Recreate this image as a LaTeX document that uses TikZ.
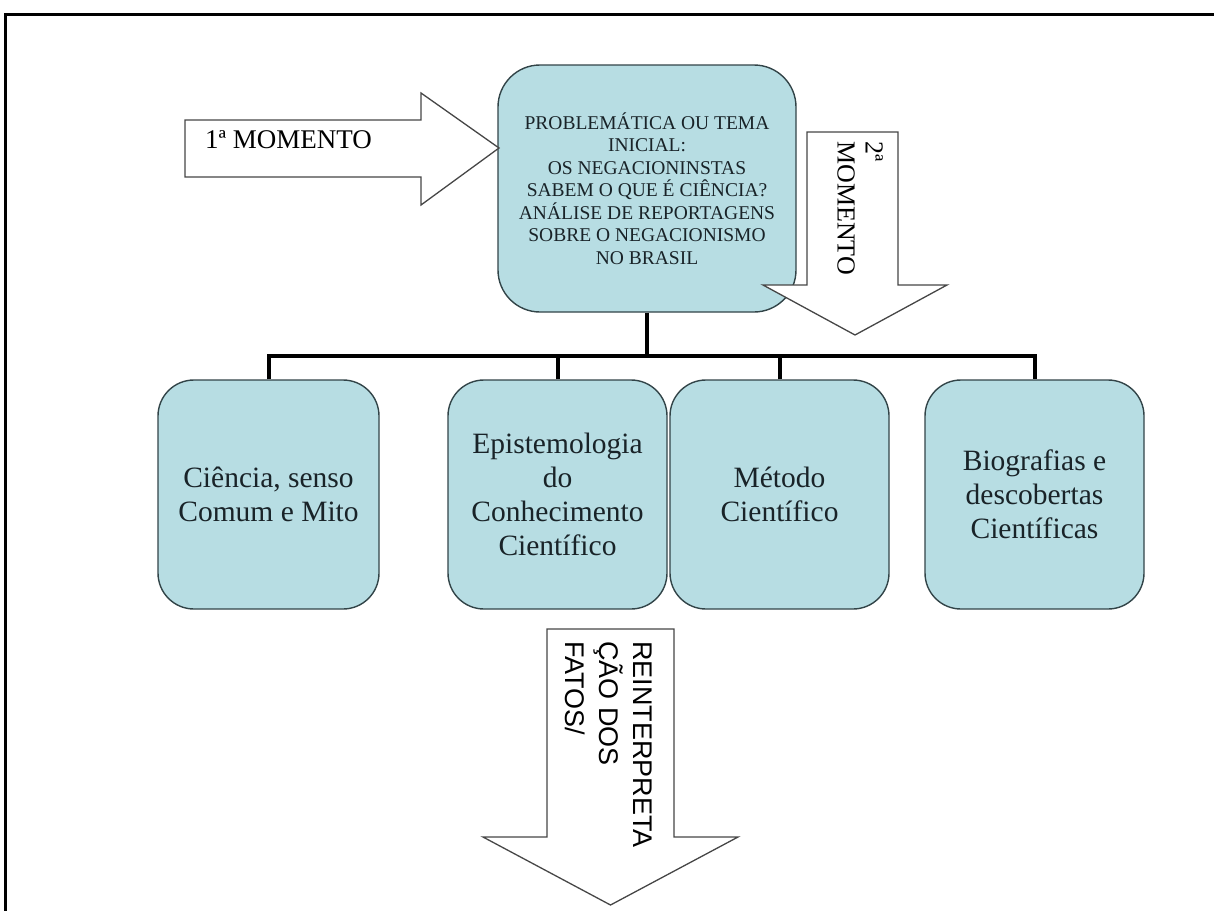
\documentclass[tikz,border=0pt]{standalone}
\usepackage{fontspec}
\setmainfont{Liberation Serif}
\newfontfamily\arialfont{Liberation Sans}
\definecolor{boxblue}{RGB}{183,221,227}
\definecolor{boxline}{RGB}{50,68,72}
\definecolor{arrline}{RGB}{70,70,70}
\definecolor{inktext}{RGB}{25,35,40}

\begin{document}
\begin{tikzpicture}[x=1pt,y=-1pt]
	\tikzstyle{Box} = [rectangle, rounded corners=36pt, draw=boxline, line width=1.4pt, fill=boxblue, text=inktext, align=center, inner sep=0pt]
	\tikzstyle{Leaf} = [Box, minimum width=220pt, minimum height=229pt, font=\fontsize{29.5}{34}\selectfont]
	\tikzstyle{BlockArrow} = [draw=arrline, line width=1.3pt, fill=white, line join=miter]
	\tikzstyle{tree} = [line width=4pt, black]
	
	\useasboundingbox (0,0) rectangle (1214,910);
	\draw [line width=3pt, black] (5,930) -- (5,14) -- (1230,14);
	
	\node (prob) [Box, minimum width=298pt, minimum height=247pt, rounded corners=42pt, font=\fontsize{19.5}{22.5}\selectfont] at (647,188.5) {PROBLEMÁTICA OU TEMA\\INICIAL:\\OS NEGACIONINSTAS\\SABEM O QUE É CIÊNCIA?\\ANÁLISE DE REPORTAGENS\\SOBRE O NEGACIONISMO\\NO BRASIL};
	
	\node (c1) [Leaf, minimum width=221pt] at (268.5,494.5) {Ciência, senso\\Comum e Mito};
	\node (c2) [Leaf, minimum width=219pt] at (557.5,494.5) {Epistemologia\\do\\Conhecimento\\Científico};
	\node (c3) [Leaf, minimum width=219pt] at (779.5,494.5) {Método\\Científico};
	\node (c4) [Leaf, minimum width=219pt] at (1034.5,494.5) {Biografias e\\descobertas\\Científicas};
	
	\coordinate (hub) at (647,356);
	\draw [tree] (prob.south) -- (hub);
	\draw [tree] (c1.north) -- (c1.north |- hub) -- (c4.north |- hub) -- (c4.north);
	\draw [tree] (c2.north) -- (c2.north |- hub);
	\draw [tree] (c3.north) -- (c3.north |- hub);
	
	\draw [BlockArrow] (185,120) -- (421,120) -- (421,93) -- (499,148) -- (421,205) -- (421,177) -- (185,177) -- cycle;
	\node (m1) [anchor=base west, inner sep=0pt, font=\fontsize{27}{30}\selectfont] at (205,148) {1ª MOMENTO};
	
	\draw [BlockArrow] (807,132) -- (898,132) -- (898,285) -- (947,285) -- (855,335) -- (763,285) -- (807,285) -- cycle;
	\node (m2) [rotate=-90, anchor=north west, align=left, inner sep=0pt, font=\fontsize{26}{28}\selectfont] at (883,141) {2ª\\MOMENTO};
	
	\draw [BlockArrow] (547,629) -- (674,629) -- (674,837) -- (738,837) -- (610.5,905) -- (483,837) -- (547,837) -- cycle;
	\node (m3) [rotate=-90, anchor=north west, align=left, inner sep=0pt, font=\arialfont\fontsize{27}{34}\selectfont] at (652,641) {REINTERPRETA\\ÇÃO DOS\\FATOS/};
\end{tikzpicture}
\end{document}
